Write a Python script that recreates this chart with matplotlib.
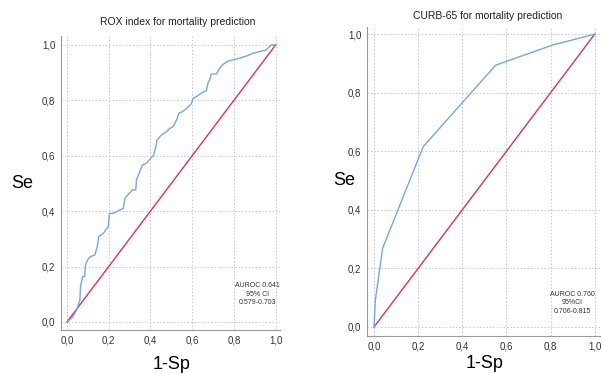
import matplotlib.pyplot as plt
import numpy as np

plt.rcParams['font.family'] = ['Liberation Sans', 'DejaVu Sans']

# ROX index ROC curve (1-Sp, Se)
rox_fpr = [0.0, 0.022, 0.033, 0.046, 0.062, 0.065, 0.075, 0.085, 0.088, 0.091,
           0.104, 0.113, 0.134, 0.145, 0.152, 0.174, 0.198, 0.203, 0.222, 0.246,
           0.270, 0.278, 0.298, 0.314, 0.330, 0.333, 0.346, 0.362, 0.381, 0.397,
           0.416, 0.426, 0.432, 0.453, 0.477, 0.493, 0.509, 0.525, 0.536, 0.553,
           0.573, 0.596, 0.604, 0.620, 0.644, 0.668, 0.676, 0.687, 0.692, 0.716,
           0.732, 0.745, 0.772, 0.796, 0.828, 0.860, 0.892, 0.923, 0.955, 0.971,
           0.979, 1.0]
rox_tpr = [0.0, 0.013, 0.025, 0.043, 0.079, 0.128, 0.164, 0.164, 0.200, 0.212,
           0.230, 0.236, 0.242, 0.272, 0.308, 0.320, 0.344, 0.392, 0.392, 0.402,
           0.410, 0.446, 0.464, 0.477, 0.477, 0.513, 0.537, 0.567, 0.573, 0.587,
           0.603, 0.633, 0.657, 0.675, 0.687, 0.699, 0.705, 0.729, 0.753, 0.759,
           0.771, 0.787, 0.807, 0.813, 0.826, 0.835, 0.862, 0.880, 0.895, 0.895,
           0.916, 0.928, 0.942, 0.946, 0.952, 0.960, 0.970, 0.976, 0.982, 0.994,
           1.0, 1.0]

# CURB-65 ROC curve
curb_fpr = [0.0, 0.006, 0.039, 0.223, 0.551, 0.810, 1.0]
curb_tpr = [0.0, 0.093, 0.269, 0.616, 0.894, 0.963, 1.0]

ticks = [0.0, 0.2, 0.4, 0.6, 0.8, 1.0]
tick_labels = ['0,0', '0,2', '0,4', '0,6', '0,8', '1,0']

blue = '#74a9dc'
red = '#d8325f'

fig = plt.figure(figsize=(6.03, 3.73), dpi=100)
ax1 = fig.add_axes([0.101, 0.1153, 0.363, 0.788])
ax2 = fig.add_axes([0.6086, 0.0992, 0.386, 0.828])

panels = [
    (ax1, rox_fpr, rox_tpr, 'ROX index for mortality prediction',
     'AUROC 0.641\n95% CI\n0.579-0.703', (0.914, 0.144),
     (-0.029, 1.02), (-0.029, 1.032)),
    (ax2, curb_fpr, curb_tpr, 'CURB-65 for mortality prediction',
     'AUROC 0.760\n95%CI\n0.706-0.815', (0.90, 0.123),
     (-0.032, 1.023), (-0.031, 1.024)),
]

for ax, fpr, tpr, title, note, npos, xl, yl in panels:
    ax.plot([0, 1], [0, 1], color=red, lw=1.0)
    ax.plot(fpr, tpr, color=blue, lw=1.0)
    ax.set_xlim(*xl)
    ax.set_ylim(*yl)
    ax.set_xticks(ticks)
    ax.set_xticklabels(tick_labels)
    ax.set_yticks(ticks)
    ax.set_yticklabels(tick_labels)
    ax.tick_params(length=0, labelsize=7, colors='#333333', pad=4)
    ax.grid(True, color='#c8c8c8', linestyle=(0, (1.5, 2)), lw=0.7)
    ax.set_axisbelow(True)
    for s in ['top', 'right']:
        ax.spines[s].set_visible(False)
    for s in ['left', 'bottom']:
        ax.spines[s].set_color('#999999')
        ax.spines[s].set_linewidth(0.8)
    ax.text(npos[0], npos[1], note, ha='center', va='top', fontsize=5,
            color='#333333', linespacing=1.3)

fig.text(0.295, 0.941, panels[0][3], ha='center', va='center', fontsize=7.5, color='#222222')
fig.text(0.808, 0.957, panels[1][3], ha='center', va='center', fontsize=7.5, color='#222222')

fig.text(0.036, 0.496, 'Se', ha='center', va='baseline', fontsize=13)
fig.text(0.570, 0.504, 'Se', ha='center', va='baseline', fontsize=13)
fig.text(0.285, 0.012, '1-Sp', ha='center', va='baseline', fontsize=13)
fig.text(0.804, 0.014, '1-Sp', ha='center', va='baseline', fontsize=13)

fig.savefig('out.png', dpi=100)
